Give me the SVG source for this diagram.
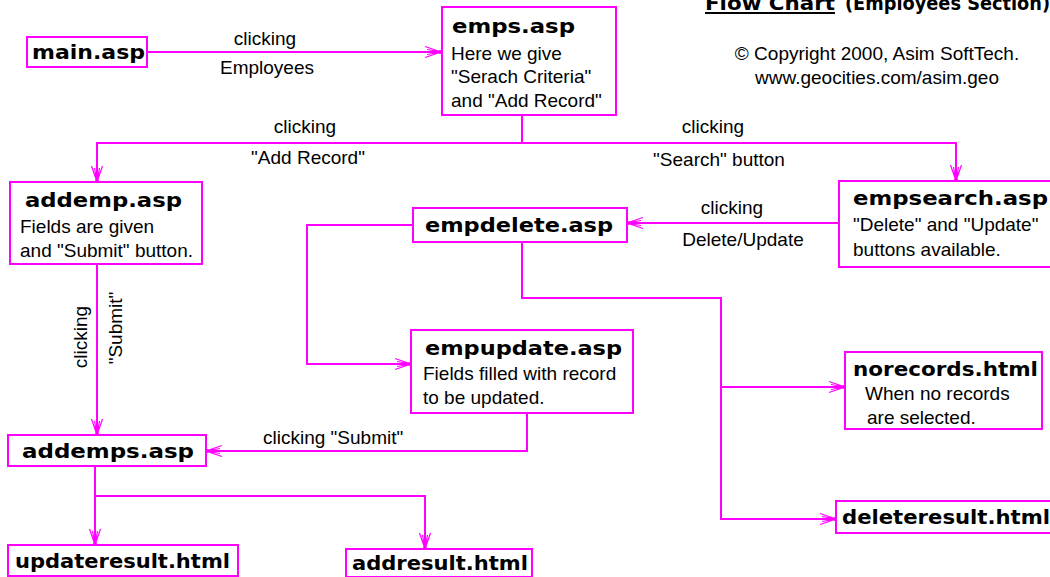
<svg xmlns="http://www.w3.org/2000/svg" width="1050" height="577" viewBox="0 0 1050 577">
<style>
.box{fill:#fff;stroke:#ff00ff;stroke-width:2}
.ttl{font-family:"DejaVu Sans",sans-serif;font-weight:bold;font-size:20px;fill:#000}
.txt{font-family:"Liberation Sans",Arial,sans-serif;font-size:19px;fill:#000}
.lbl{font-family:"Liberation Sans",Arial,sans-serif;font-size:19px;fill:#000;text-anchor:middle}
.con{fill:none;stroke:#ff00ff;stroke-width:2}
</style>
<defs>
<marker id="arr" markerUnits="userSpaceOnUse" markerWidth="24" markerHeight="16" refX="20" refY="8" orient="auto" viewBox="0 0 24 16">
<path d="M4,2.5 L20,8 L4,13.5 M6,5.5 L20,8 L6,10.5" fill="none" stroke="#ff00ff" stroke-width="1.2"/>
<circle cx="19" cy="8" r="2" fill="#ff00ff"/>
</marker>
</defs>
<rect width="1050" height="577" fill="#fff"/>

<g id="title">
<text class="ttl" x="705" y="10" textLength="130" lengthAdjust="spacingAndGlyphs">Flow Chart</text>
<line x1="705" y1="13" x2="835" y2="13" stroke="#000" stroke-width="2"/>
<text class="ttl" x="845" y="10" textLength="205" lengthAdjust="spacingAndGlyphs">(Employees Section)</text>
<text class="lbl" x="877" y="60">© Copyright 2000, Asim SoftTech.</text>
<text class="lbl" x="877" y="84">www.geocities.com/asim.geo</text>
</g>

<g id="connectors">
<path class="con" d="M147,52 H441" marker-end="url(#arr)"/>
<path class="con" d="M522,115 V143 H97 V182" marker-end="url(#arr)"/>
<path class="con" d="M522,143 H956 V181" marker-end="url(#arr)"/>
<path class="con" d="M839,223 H627" marker-end="url(#arr)"/>
<path class="con" d="M413,225 H307 V364 H411" marker-end="url(#arr)"/>
<path class="con" d="M522,242 V298 H721 V387 H845" marker-end="url(#arr)"/>
<path class="con" d="M721,387 V519 H836" marker-end="url(#arr)"/>
<path class="con" d="M97,264 V435" marker-end="url(#arr)"/>
<path class="con" d="M527,413 V451 H206" marker-end="url(#arr)"/>
<path class="con" d="M95,466 V545" marker-end="url(#arr)"/>
<path class="con" d="M95,496 H425 V549" marker-end="url(#arr)"/>
<text class="lbl" x="265" y="45">clicking</text>
<text class="lbl" x="267" y="74">Employees</text>
<text class="lbl" x="305" y="133">clicking</text>
<text class="lbl" x="308" y="164">"Add Record"</text>
<text class="lbl" x="713" y="133">clicking</text>
<text class="lbl" x="719" y="166">"Search" button</text>
<text class="lbl" x="732" y="214">clicking</text>
<text class="lbl" x="743" y="246">Delete/Update</text>
<text class="txt" x="263" y="444">clicking "Submit"</text>
<text class="lbl" transform="translate(87,337) rotate(-90)">clicking</text>
<text class="lbl" transform="translate(122,328) rotate(-90)">"Submit"</text>
</g>

<g id="main">
<rect class="box" x="27" y="37" width="120" height="30"/>
<text class="ttl" x="32" y="59" textLength="113" lengthAdjust="spacingAndGlyphs">main.asp</text>
</g>

<g id="emps">
<rect class="box" x="442" y="7" width="174" height="108"/>
<text class="ttl" x="452" y="33" textLength="123" lengthAdjust="spacingAndGlyphs">emps.asp</text>
<text class="txt" x="451" y="60">Here we give</text>
<text class="txt" x="451" y="83">"Serach Criteria"</text>
<text class="txt" x="451" y="107">and "Add Record"</text>
</g>

<g id="addemp">
<rect class="box" x="10" y="182" width="192" height="82"/>
<text class="ttl" x="25" y="207" textLength="157" lengthAdjust="spacingAndGlyphs">addemp.asp</text>
<text class="txt" x="20" y="233">Fields are given</text>
<text class="txt" x="20" y="257">and "Submit" button.</text>
</g>

<g id="empdelete">
<rect class="box" x="413" y="208" width="214" height="34"/>
<text class="ttl" x="425" y="232" textLength="188" lengthAdjust="spacingAndGlyphs">empdelete.asp</text>
</g>

<g id="empsearch">
<rect class="box" x="839" y="181" width="214" height="86"/>
<text class="ttl" x="853" y="205" textLength="195" lengthAdjust="spacingAndGlyphs">empsearch.asp</text>
<text class="txt" x="853" y="231">"Delete" and "Update"</text>
<text class="txt" x="853" y="256">buttons available.</text>
</g>

<g id="empupdate">
<rect class="box" x="411" y="330" width="222" height="83"/>
<text class="ttl" x="425" y="355" textLength="197" lengthAdjust="spacingAndGlyphs">empupdate.asp</text>
<text class="txt" x="423" y="380">Fields filled with record</text>
<text class="txt" x="423" y="404">to be updated.</text>
</g>

<g id="norecords">
<rect class="box" x="845" y="352" width="197" height="77"/>
<text class="ttl" x="853" y="376" textLength="185" lengthAdjust="spacingAndGlyphs">norecords.html</text>
<text class="txt" x="865" y="400">When no records</text>
<text class="txt" x="867" y="424">are selected.</text>
</g>

<g id="deleteresult">
<rect class="box" x="836" y="501" width="216" height="32"/>
<text class="ttl" x="842" y="524" textLength="208" lengthAdjust="spacingAndGlyphs">deleteresult.html</text>
</g>

<g id="addemps">
<rect class="box" x="8" y="435" width="198" height="31"/>
<text class="ttl" x="22" y="458" textLength="172" lengthAdjust="spacingAndGlyphs">addemps.asp</text>
</g>

<g id="updateresult">
<rect class="box" x="8" y="545" width="230" height="31"/>
<text class="ttl" x="15" y="568" textLength="215" lengthAdjust="spacingAndGlyphs">updateresult.html</text>
</g>

<g id="addresult">
<rect class="box" x="346" y="549" width="186" height="28"/>
<text class="ttl" x="352" y="570" textLength="176" lengthAdjust="spacingAndGlyphs">addresult.html</text>
</g>
</svg>
